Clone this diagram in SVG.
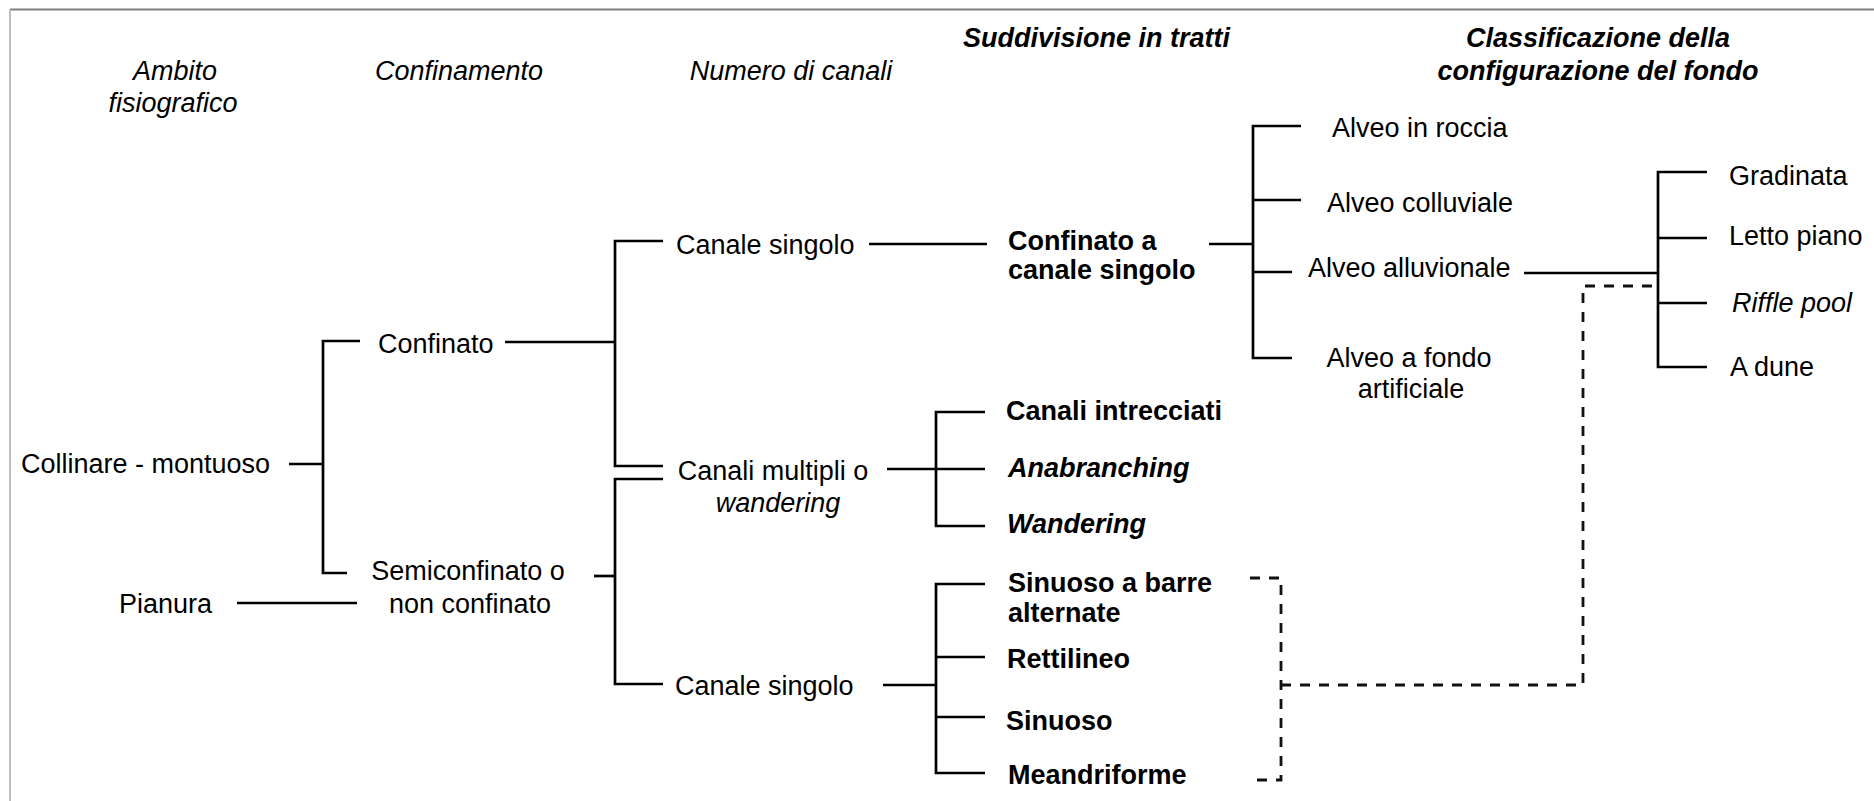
<svg xmlns="http://www.w3.org/2000/svg" width="1874" height="801" viewBox="0 0 1874 801">
<style>
text{font-family:"Liberation Sans",Arial,sans-serif;font-size:27px;fill:#000}
.h{font-style:italic}
.hb{font-style:italic;font-weight:bold}
.b{font-weight:bold}
.bi{font-weight:bold;font-style:italic}
.i{font-style:italic}
.m{text-anchor:middle}
.ln{fill:none;stroke:#000;stroke-width:2.7}
.ds{fill:none;stroke:#111;stroke-width:2.8;stroke-dasharray:10 9}
</style>
<rect width="1874" height="801" fill="#fff"/>
<g id="frame">
<line x1="10" y1="9.5" x2="1874" y2="9.5" stroke="#808080" stroke-width="1.8"/>
<line x1="10" y1="9.5" x2="10" y2="801" stroke="#b8b8b8" stroke-width="1.8"/>
</g>
<g id="headers">
<text class="h m" x="175" y="80">Ambito</text>
<text class="h m" x="173" y="112">fisiografico</text>
<text class="h m" x="459" y="80">Confinamento</text>
<text class="h m" x="791" y="80">Numero di canali</text>
<text class="hb" x="963" y="47">Suddivisione in tratti</text>
<text class="hb m" x="1598" y="47">Classificazione della</text>
<text class="hb m" x="1598" y="80">configurazione del fondo</text>
</g>
<g id="connectors">
<path class="ln" d="M289,464H323"/>
<path class="ln" d="M360,341H323V573H347"/>
<path class="ln" d="M237,603H357"/>
<path class="ln" d="M505,342H615"/>
<path class="ln" d="M663,241H615V466H663"/>
<path class="ln" d="M594,576H615"/>
<path class="ln" d="M663,479H615V684H663"/>
<path class="ln" d="M869,244H987"/>
<path class="ln" d="M1209,244H1253"/>
<path class="ln" d="M1301,126H1253V358H1292M1253,200H1301M1253,272H1292"/>
<path class="ln" d="M887,469H936"/>
<path class="ln" d="M985,412H936V526H985M936,469H985"/>
<path class="ln" d="M883,685H936"/>
<path class="ln" d="M985,584H936V773H985M936,657H985M936,717H985"/>
<path class="ln" d="M1524,273H1658"/>
<path class="ln" d="M1707,172H1658V367H1707M1658,238H1707M1658,303H1707"/>
<path class="ds" d="M1250,578H1281V780H1250"/>
<path class="ds" d="M1281,685H1583V286H1658"/>
</g>
<g id="n-collinare"><text x="21" y="473">Collinare - montuoso</text></g>
<g id="n-pianura"><text x="119" y="613">Pianura</text></g>
<g id="n-confinato"><text x="378" y="353">Confinato</text></g>
<g id="n-semiconfinato"><text class="m" x="468" y="580">Semiconfinato o</text><text class="m" x="470" y="613">non confinato</text></g>
<g id="n-canale-singolo-1"><text x="676" y="254">Canale singolo</text></g>
<g id="n-canali-multipli"><text class="m" x="773" y="480">Canali multipli o</text><text class="i m" x="778" y="512">wandering</text></g>
<g id="n-canale-singolo-2"><text x="675" y="695">Canale singolo</text></g>
<g id="n-confinato-canale-singolo"><text class="b" x="1008" y="250">Confinato a</text><text class="b" x="1008" y="279">canale singolo</text></g>
<g id="n-alveo-roccia"><text x="1332" y="137">Alveo in roccia</text></g>
<g id="n-alveo-colluviale"><text x="1327" y="212">Alveo colluviale</text></g>
<g id="n-alveo-alluvionale"><text x="1308" y="277">Alveo alluvionale</text></g>
<g id="n-alveo-artificiale"><text class="m" x="1409" y="367">Alveo a fondo</text><text class="m" x="1411" y="398">artificiale</text></g>
<g id="n-canali-intrecciati"><text class="b" x="1006" y="420">Canali intrecciati</text></g>
<g id="n-anabranching"><text class="bi" x="1008" y="477">Anabranching</text></g>
<g id="n-wandering"><text class="bi" x="1007" y="533">Wandering</text></g>
<g id="n-sinuoso-barre"><text class="b" x="1008" y="592">Sinuoso a barre</text><text class="b" x="1008" y="622">alternate</text></g>
<g id="n-rettilineo"><text class="b" x="1007" y="668">Rettilineo</text></g>
<g id="n-sinuoso"><text class="b" x="1006" y="730">Sinuoso</text></g>
<g id="n-meandriforme"><text class="b" x="1008" y="784">Meandriforme</text></g>
<g id="n-gradinata"><text x="1729" y="185">Gradinata</text></g>
<g id="n-letto-piano"><text x="1729" y="245">Letto piano</text></g>
<g id="n-riffle-pool"><text class="i" x="1732" y="312">Riffle pool</text></g>
<g id="n-a-dune"><text x="1730" y="376">A dune</text></g>
</svg>
